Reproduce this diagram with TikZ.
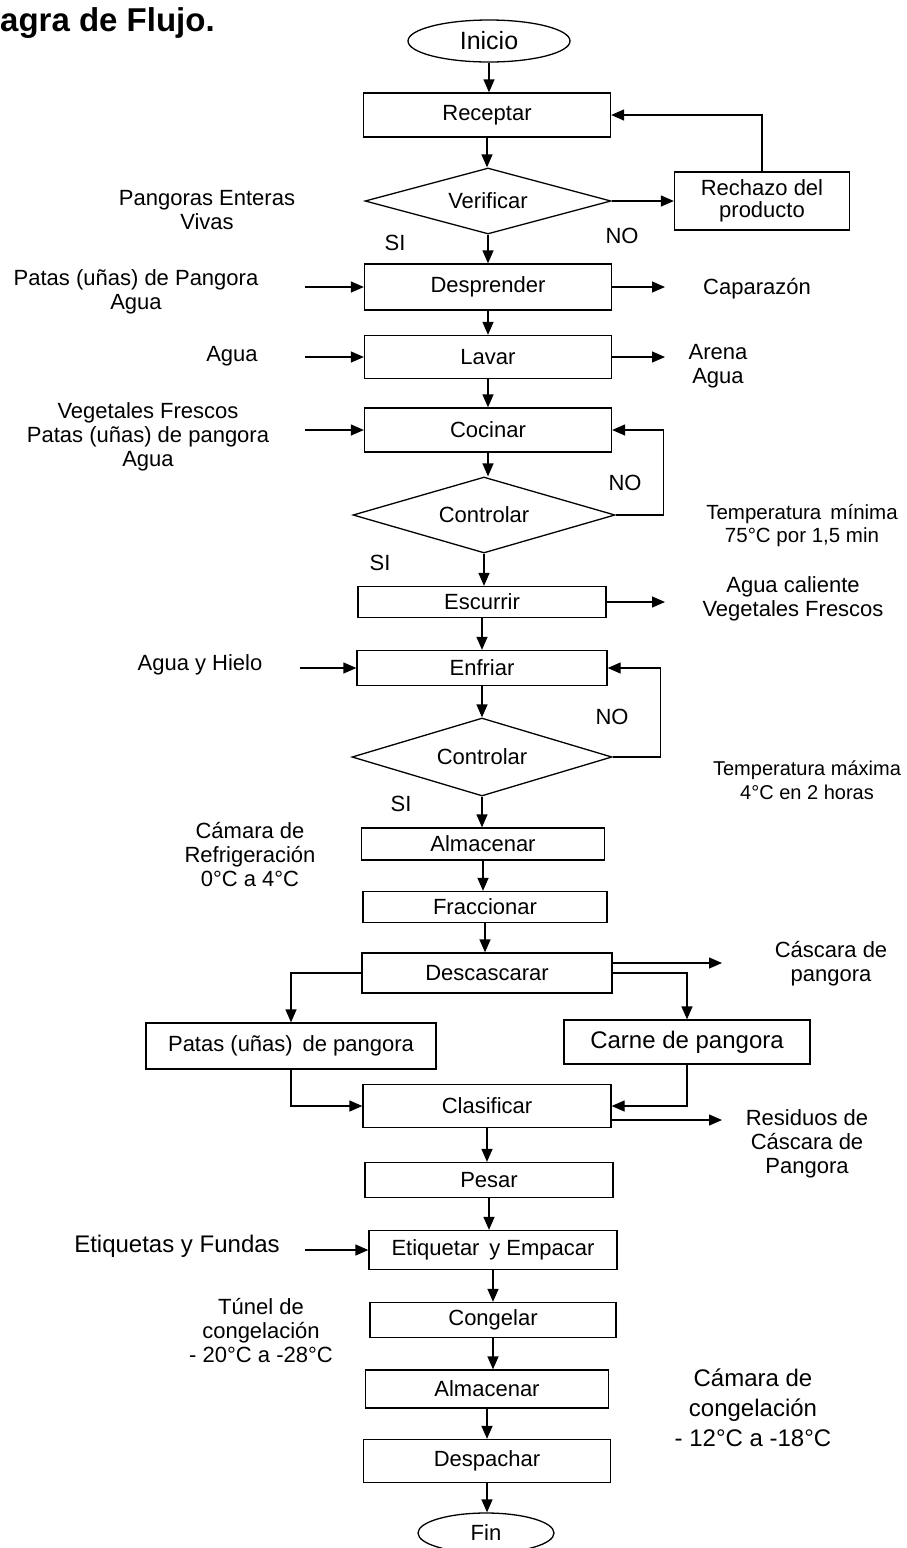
\documentclass[tikz,border=0pt]{standalone}
\usepackage{fontspec}
\setmainfont{Liberation Sans}
\usepackage{tikz}
\usetikzlibrary{shapes.geometric,arrows.meta,positioning,calc}

\begin{document}
\begin{tikzpicture}[
    x=1pt,
    y=-1pt,
    process/.style={
        rectangle,
        draw=black,
        line width=1.3pt,
        minimum width=247pt,
        minimum height=44pt,
        inner sep=0pt,
        align=center,
        font=\fontsize{22}{22}\selectfont
    },
    decision/.style={
        diamond,
        aspect=3.5,
        draw=black,
        line width=1.3pt,
        inner sep=0pt,
        font=\fontsize{22}{24}\selectfont
    },
    terminal/.style={
        ellipse,
        draw=black,
        line width=1.3pt,
        inner sep=0pt,
        font=\fontsize{22}{24}\selectfont
    },
    arrow/.style={
        -{Triangle[length=13pt,width=11pt]},
        line width=1.3pt
    },
    note/.style={
        align=center,
        font=\fontsize{22}{24}\selectfont
    }
]

\useasboundingbox (0,0) rectangle (906,1548);

% Title (cut at the left edge)
\node[anchor=base west, inner sep=0pt, font=\fontsize{33}{35}\selectfont\bfseries] (titulo) at (0,31) {agra de Flujo.};

% Main column
\node[terminal, minimum width=162pt, minimum height=42pt, font=\fontsize{25}{25}\selectfont] (inicio) at (489,41) {Inicio};
\node[process] (receptar) at (487,115) {Receptar};
\node[decision, minimum width=246pt, minimum height=66pt] (verificar) at (488,201) {Verificar};
\node[process, minimum width=175pt, minimum height=58pt] (rechazo) at (762,201) {Rechazo del\\producto};
\node[process, minimum height=46pt] (desprender) at (488,287) {Desprender};
\node[process, minimum height=43pt] (lavar) at (488,357) {Lavar};
\node[process, minimum height=44pt] (cocinar) at (488,430) {Cocinar};
\node[decision, minimum width=262pt, minimum height=76pt] (controlA) at (484,515) {Controlar};
\node[process, minimum width=248pt, minimum height=31pt] (escurrir) at (482,602) {Escurrir};
\node[process, minimum width=250pt, minimum height=35pt] (enfriar) at (482,668) {Enfriar};
\node[decision, minimum width=260pt, minimum height=78pt] (controlB) at (482,757) {Controlar};
\node[process, minimum width=243pt, minimum height=32pt] (almacenarA) at (483,844) {Almacenar};
\node[process, minimum width=244pt, minimum height=31pt] (fraccionar) at (485,907) {Fraccionar};
\node[process, minimum width=250pt, minimum height=40pt] (descascarar) at (487,973) {Descascarar};
\node[process, minimum width=290pt, minimum height=46pt] (patas) at (291,1046) {Patas (uñas)\, de pangora};
\node[process, minimum width=246pt, minimum height=44pt, font=\fontsize{24}{24}\selectfont] (carne) at (687,1042) {Carne de pangora};
\node[process, minimum width=248pt, minimum height=43pt] (clasificar) at (487,1106) {Clasificar};
\node[process, minimum width=248pt, minimum height=35pt] (pesar) at (489,1180) {Pesar};
\node[process, minimum width=248pt, minimum height=39pt] (etiquetar) at (493,1250) {Etiquetar\, y Empacar};
\node[process, minimum width=246pt, minimum height=35pt] (congelar) at (493,1320) {Congelar};
\node[process, minimum width=243pt, minimum height=38pt] (almacenarB) at (487,1389) {Almacenar};
\node[process, minimum width=247pt, minimum height=43pt] (despachar) at (487,1461) {Despachar};
\node[terminal, minimum width=136pt, minimum height=40pt] (fin) at (486,1533) {Fin};

% Side notes
\node[note] (pangoras) at (207,210) {Pangoras Enteras\\Vivas};
\node[note] (inPatas) at (136,292) {Patas (uñas) de Pangora\\Agua};
\node[note] (caparazon) at (757,289) {Caparazón};
\node[note] (aguaLavar) at (232,356) {Agua};
\node[note] (arena) at (718,366) {Arena\\Agua};
\node[note] (vegetales) at (148,437) {Vegetales Frescos\\Patas (uñas) de pangora\\Agua};
\node[note, font=\fontsize{20.5}{23}\selectfont] (tempMin) at (802,526) {Temperatura\, mínima\\75°C por 1,5 min};
\node[note] (aguaCaliente) at (793,599) {Agua caliente\\Vegetales Frescos};
\node[note] (aguaHielo) at (200,665) {Agua y Hielo};
\node[note, font=\fontsize{20}{24}\selectfont] (tempMax) at (807,780) {Temperatura máxima\\4°C en 2 horas};
\node[note] (camaraRef) at (250,854) {Cámara de\\Refrigeración\\0°C a 4°C};
\node[note] (cascara) at (831,964) {Cáscara de\\pangora};
\node[note] (residuos) at (807,1144) {Residuos de\\Cáscara de\\Pangora};
\node[note, font=\fontsize{24}{26}\selectfont] (etiquetas) at (177,1246) {Etiquetas y Fundas};
\node[note] (tunel) at (261,1330) {Túnel de\\congelación\\- 20°C a -28°C};
\node[note, font=\fontsize{24}{30}\selectfont] (camaraCong) at (753,1408) {Cámara de\\congelación\\- 12°C a -18°C};

% SI / NO labels
\node[note] (siA) at (395,243) {SI};
\node[note] (noA) at (622,236) {NO};
\node[note] (noB) at (625,483) {NO};
\node[note] (siB) at (380,563) {SI};
\node[note] (noC) at (612,717) {NO};
\node[note] (siC) at (401,804) {SI};

% Free ends of the side arrows
\coordinate (inDesp) at (305,0);
\coordinate (outDesp) at (665,0);
\coordinate (inEnfriar) at (300,0);
\coordinate (outCascara) at (722,0);

% Main flow
\foreach \a/\b in {inicio/receptar, receptar/verificar, verificar/desprender,
    desprender/lavar, lavar/cocinar, cocinar/controlA, controlA/escurrir,
    escurrir/enfriar, enfriar/controlB, controlB/almacenarA,
    almacenarA/fraccionar, fraccionar/descascarar, clasificar/pesar,
    pesar/etiquetar, etiquetar/congelar, congelar/almacenarB,
    almacenarB/despachar, despachar/fin} {
    \draw[arrow] (\a.south) -- (\a.south |- \b.north);
}

% Rejection loop
\draw[arrow] (verificar.east) -- (rechazo.west);
\draw[arrow] (rechazo.north) |- (receptar.east);

% Control loops
\draw[arrow] (controlA.east) -- ++(48,0) |- (cocinar.east);
\draw[arrow] (controlB.east) -- ++(48,0) |- (enfriar.east);

% Inputs
\foreach \n/\c in {desprender/inDesp, lavar/inDesp, cocinar/inDesp,
    enfriar/inEnfriar, etiquetar/inDesp} {
    \draw[arrow] (\n.west -| \c) -- (\n.west);
}

% Outputs
\foreach \n in {desprender, lavar, escurrir} {
    \draw[arrow] (\n.east) -- (\n.east -| outDesp);
}
\draw[arrow] ([yshift=10pt]descascarar.east) -- ([yshift=10pt]descascarar.east -| outCascara);
\draw[arrow] ([yshift=-14pt]clasificar.east) -- ([yshift=-14pt]clasificar.east -| outCascara);

% Split and join around Clasificar
\draw[arrow] (descascarar.west) -| (patas.north);
\draw[arrow] (descascarar.east) -| (carne.north);
\draw[arrow] (patas.south) |- (clasificar.west);
\draw[arrow] (carne.south) |- (clasificar.east);

\end{tikzpicture}
\end{document}
